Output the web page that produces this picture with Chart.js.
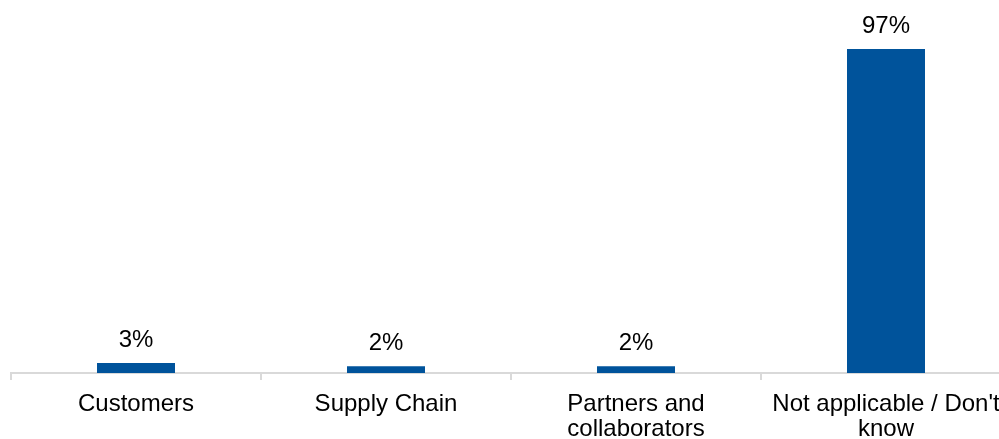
<!DOCTYPE html>
<html>
<head>
<meta charset="utf-8">
<script src="https://cdn.jsdelivr.net/npm/chart.js@4.4.0/dist/chart.umd.min.js"></script>
<style>
  html, body { margin: 0; padding: 0; background: #fff; overflow: hidden; }
  #wrap { width: 1022px; height: 439px; }
</style>
</head>
<body>
<div id="wrap"><canvas id="chart" width="1022" height="439"></canvas></div>
<script>
// --- DONNEES ---
const categories = ['Customers', 'Supply Chain', ['Partners and', 'collaborators'], ['Not applicable / Don\'t', 'know']];
const values = [3, 2, 2, 97];

const barColor = '#00539b';
const axisColor = '#d9d9d9';
const fontFamily = '"Liberation Sans", Arial, sans-serif';

// valeurs au-dessus des barres (pas de plugin datalabels dispo)
const valueLabels = {
    id: 'valueLabels',
    afterDatasetsDraw(chart) {
        const ctx = chart.ctx;
        const meta = chart.getDatasetMeta(0);
        ctx.save();
        ctx.font = '24px ' + fontFamily;
        ctx.fillStyle = '#000';
        ctx.textAlign = 'center';
        ctx.textBaseline = 'alphabetic';
        meta.data.forEach((bar, i) => {
            ctx.fillText(values[i] + '%', bar.x, bar.y - 16);
        });
        ctx.restore();
    }
};

new Chart(document.getElementById('chart'), {
    type: 'bar',
    data: {
        labels: categories,
        datasets: [{
            data: values,
            backgroundColor: barColor,
            borderWidth: 0,
            barPercentage: 0.312,
            categoryPercentage: 1
        }]
    },
    options: {
        responsive: false,
        animation: false,
        layout: { padding: { left: 11, right: 11, top: 39, bottom: 0 } },
        plugins: { legend: { display: false }, tooltip: { enabled: false } },
        scales: {
            y: { display: false, min: 0, max: 100 },
            x: {
                // hauteur fixe pour caler l'axe à y=373
                afterFit(scale) { scale.height = 66; },
                border: { display: true, color: axisColor, width: 2 },
                grid: {
                    offset: true,
                    drawOnChartArea: false,
                    drawTicks: true,
                    tickLength: 7,
                    color: axisColor,
                    lineWidth: 2
                },
                ticks: {
                    color: '#000',
                    padding: 12,
                    maxRotation: 0,
                    autoSkip: false,
                    font: { family: fontFamily, size: 24, lineHeight: 1.05 }
                }
            }
        }
    },
    plugins: [valueLabels]
});
</script>
</body>
</html>
